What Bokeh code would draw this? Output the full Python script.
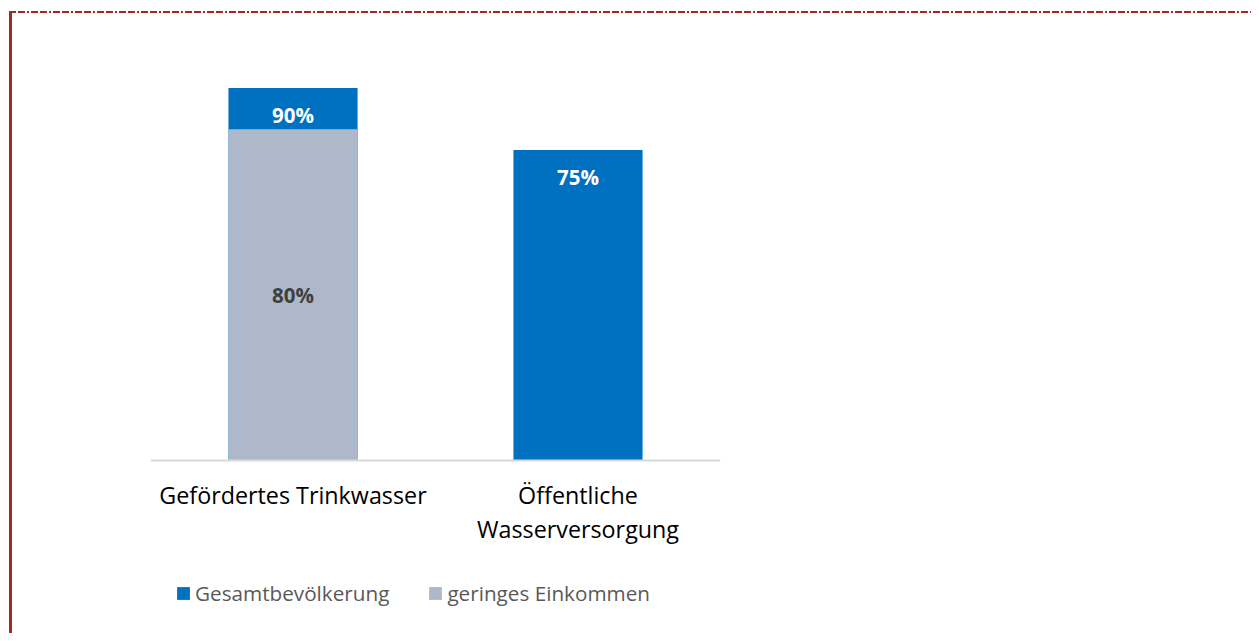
from bokeh.plotting import figure
from bokeh.models import ColumnDataSource, FactorRange, Range1d, Legend, LegendItem
from bokeh.core.properties import value
from bokeh.embed import file_html
from bokeh.resources import INLINE

categories = ["Gefördertes Trinkwasser", "Öffentliche\nWasserversorgung"]
gesamt = [90, 75]
gering = [80, None]
gesamt_labels = ["90%", "75%"]
gering_labels = ["80%", ""]

BLUE = "#0070C0"
GREY = "#ADB9CA"
RED = "#A52A1F"
FONT = "Open Sans"

# frame: 100 % = 414 px; extra room below the zero line for labels and legend
PX_PER_UNIT = 4.14
BELOW_PX = 173
p = figure(x_range=FactorRange(*categories, range_padding=0),
           y_range=Range1d(-BELOW_PX / PX_PER_UNIT, 100),
           frame_width=570, frame_height=414 + BELOW_PX,
           min_border_left=150, min_border_right=531,
           min_border_top=46, min_border_bottom=0,
           output_backend="svg", toolbar_location=None)
p.background_fill_alpha = 0
p.border_fill_alpha = 0
p.outline_line_color = None
p.xgrid.visible = False
p.ygrid.visible = False
p.yaxis.visible = False
p.styles = {
    "background-color": "white",
    "background-image": (f"linear-gradient({RED}, {RED}), "
                         f"repeating-linear-gradient(to right, "
                         f"{RED} 0px, {RED} 7px, transparent 7px, transparent 9px, "
                         f"{RED} 9px, {RED} 16px, transparent 16px, transparent 18px, "
                         f"{RED} 18px, {RED} 20px, transparent 20px, transparent 22px)"),
    "background-size": "3px 100%, 100% 2px",
    "background-position": "9px 11px, 9px 11px",
    "background-repeat": "no-repeat",
}

src_b = ColumnDataSource(dict(x=categories, top=gesamt, lab=gesamt_labels))
g_x = [c for c, v in zip(categories, gering) if v is not None]
g_v = [v for v in gering if v is not None]
g_l = [l for l, v in zip(gering_labels, gering) if v is not None]
src_g = ColumnDataSource(dict(x=g_x, top=g_v, mid=[v / 2 for v in g_v], lab=g_l))

r_b = p.vbar(x="x", top="top", bottom=0, width=0.453, source=src_b,
             fill_color=BLUE, line_color=None)
r_g = p.vbar(x="x", top="top", bottom=0, width=0.453, source=src_g,
             fill_color=GREY, line_color=None)

p.text(x="x", y="top", text="lab", source=src_b, y_offset=27,
       text_align="center", text_baseline="middle",
       text_font=value(FONT), text_font_style="bold", text_font_size="20.5px",
       text_color="white")
p.text(x="x", y="mid", text="lab", source=src_g,
       text_align="center", text_baseline="middle",
       text_font=value(FONT), text_font_style="bold", text_font_size="20.5px",
       text_color="#404040")

ax = p.xaxis[0]
ax.fixed_location = 0
ax.axis_line_color = "#D9D9D9"
ax.axis_line_width = 2
ax.major_tick_line_color = None
ax.minor_tick_line_color = None
ax.major_label_text_font = FONT
ax.major_label_text_font_size = "23.3px"
ax.major_label_text_color = "black"
ax.major_label_text_line_height = 1.08
ax.major_label_standoff = 12

legend = Legend(items=[LegendItem(label="Gesamtbevölkerung", renderers=[r_b]),
                       LegendItem(label="geringes Einkommen", renderers=[r_g])],
                location=(25, 26), orientation="horizontal",
                padding=0, margin=0, spacing=38, label_standoff=4,
                glyph_width=16, glyph_height=16, label_height=20,
                label_text_font=FONT, label_text_font_size="20.7px",
                label_text_color="#595959",
                border_line_color=None, background_fill_alpha=0)
p.add_layout(legend, "center")

open("out.html", "w").write(file_html(p, INLINE))
